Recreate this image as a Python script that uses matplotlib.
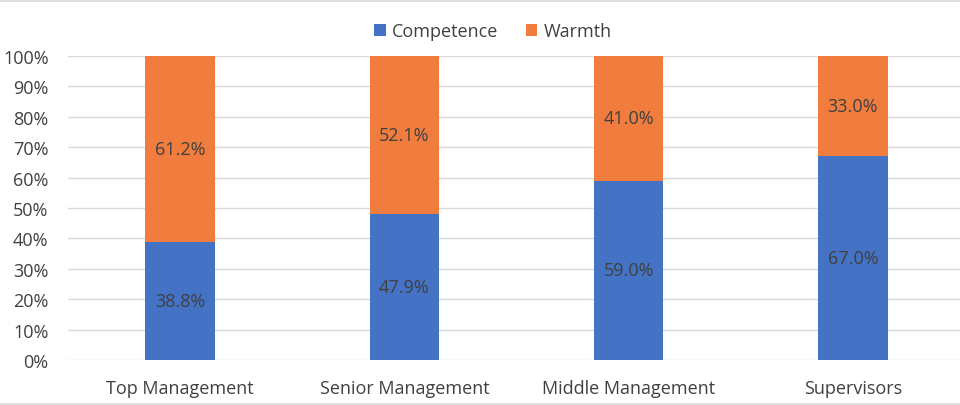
import matplotlib
matplotlib.use("Agg")
import matplotlib.pyplot as plt
from matplotlib.lines import Line2D
from matplotlib.patches import Patch

categories = ["Top Management", "Senior Management", "Middle Management", "Supervisors"]
competence = [38.8, 47.9, 59.0, 67.0]
warmth = [61.2, 52.1, 41.0, 33.0]
yticks = [0, 10, 20, 30, 40, 50, 60, 70, 80, 90, 100]

BLUE = "#4472C4"
ORANGE = "#F07D3E"
TXT = "#404040"
FS = 13

plt.rcParams['font.family'] = ['Open Sans', 'DejaVu Sans']

fig = plt.figure(figsize=(9.6, 4.06), dpi=100)
W, H = 960, 406
ax = fig.add_axes([68 / W, (H - 361) / H, (965 - 68) / W, (361 - 57) / H])

x = list(range(len(categories)))
bw = 0.31
ax.bar(x, competence, width=bw, color=BLUE, zorder=3)
ax.bar(x, warmth, width=bw, bottom=competence, color=ORANGE, zorder=3)

for i in x:
    ax.text(i, competence[i] / 2, f"{competence[i]:.1f}%", ha="center", va="center",
            fontsize=FS, color=TXT, zorder=4)
    ax.text(i, competence[i] + warmth[i] / 2, f"{warmth[i]:.1f}%", ha="center", va="center",
            fontsize=FS, color=TXT, zorder=4)

ax.set_xlim(-0.5, len(categories) - 0.5)
ax.set_ylim(0, 100)
ax.set_yticks(yticks)
ax.set_yticklabels([f"{t}%" for t in yticks])
ax.set_xticks(x)
ax.set_xticklabels(categories)
ax.tick_params(axis="both", length=0, labelsize=FS, labelcolor=TXT)
ax.tick_params(axis="y", pad=14)
ax.tick_params(axis="x", pad=14)
ax.grid(axis="y", color="#D9D9D9", linewidth=1, zorder=0)
ax.set_axisbelow(True)
for s in ax.spines.values():
    s.set_visible(False)

handles = [Patch(facecolor=BLUE), Patch(facecolor=ORANGE)]
fig.legend(handles, ["Competence", "Warmth"], loc="center", bbox_to_anchor=(493 / W, (H - 32) / H),
           ncol=2, frameon=False, fontsize=FS, labelcolor=TXT, handlelength=0.65, handleheight=0.65,
           handletextpad=0.35, columnspacing=1.5)

fig.add_artist(Line2D([0, 1], [(H - 2) / H, (H - 2) / H], color="#D9D9D9", linewidth=1.2, transform=fig.transFigure))
fig.add_artist(Line2D([0, 1], [(H - 404.5) / H, (H - 404.5) / H], color="#D9D9D9", linewidth=1.2, transform=fig.transFigure))

fig.savefig("out.png", dpi=100)
